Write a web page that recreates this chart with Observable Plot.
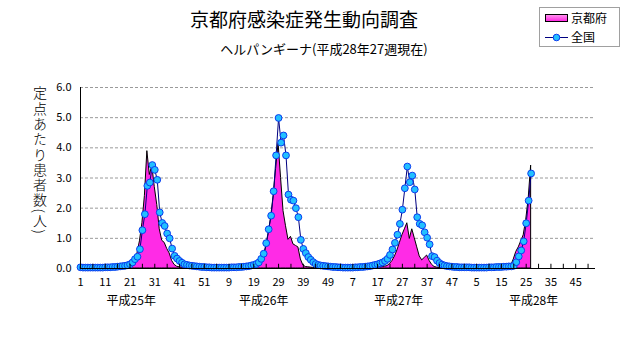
<!DOCTYPE html>
<html><head><meta charset="utf-8">
<script src="https://cdn.jsdelivr.net/npm/d3@7"></script>
<script src="https://cdn.jsdelivr.net/npm/@observablehq/plot@0.6"></script>
<style>
body{margin:0;background:#fff;}
#wrap{position:relative;width:631px;height:347px;font-family:"Noto Sans CJK JP","Noto Sans",sans-serif;color:#000;background:#fff;overflow:hidden;}
#chart{position:absolute;left:0;top:0;}
#title{position:absolute;left:0;width:608px;top:9px;text-align:center;font-size:19px;line-height:1;}
#subtitle{position:absolute;left:0;width:648px;top:42px;text-align:center;font-size:13px;line-height:1;}
#ylabel{position:absolute;left:33px;top:86px;writing-mode:vertical-rl;font-size:14px;line-height:1;letter-spacing:1.3px;font-weight:300;}
#legend{position:absolute;left:539px;top:7px;width:81px;height:40px;border:1px solid #a0a0a0;box-sizing:border-box;font-size:12px;}
.li{position:absolute;left:5px;height:16px;display:flex;align-items:center;}
.li span{margin-left:3px;line-height:1;}
</style></head><body>
<div id="wrap">
  <div id="chart"></div>
  <div id="title">京都府感染症発生動向調査</div>
  <div id="subtitle">ヘルパンギーナ(平成28年27週現在)</div>
  <div id="ylabel">定点あたり患者数(人)</div>
  <div id="legend">
    <div class="li" style="top:2px"><svg width="23" height="8"><defs><linearGradient id="lg" x1="0" y1="0" x2="0" y2="1"><stop offset="0" stop-color="#ff9af0"/><stop offset="1" stop-color="#ff20e0"/></linearGradient></defs><rect x="0.5" y="0.5" width="22" height="7" fill="url(#lg)" stroke="#000"/></svg><span>京都府</span></div>
    <div class="li" style="top:21px"><svg width="23" height="9"><line x1="0" y1="4.5" x2="23" y2="4.5" stroke="#000080"/><circle cx="11.5" cy="4.5" r="3.3" fill="#22c0ff" stroke="#0b3cf0"/></svg><span>全国</span></div>
  </div>
</div>
<script>
// 全国 (national) weekly values per sentinel
const national2013 = [0.04,0.03,0.03,0.03,0.03,0.03,0.03,0.03,0.03,0.03,
 0.04,0.04,0.04,0.05,0.05,0.06,0.07,0.08,0.09,0.11,
 0.14,0.20,0.31,0.39,0.64,1.27,1.80,2.74,2.85,3.43,
 3.27,2.94,1.86,1.51,1.41,1.16,1.00,0.66,0.42,0.33,
 0.25,0.19,0.14,0.12,0.10,0.09,0.08,0.07,0.06,0.05,
 0.05,0.04];
const national2014 = [0.04,0.03,0.03,0.03,0.03,0.03,0.03,0.03,0.03,0.04,
 0.04,0.04,0.05,0.05,0.06,0.07,0.08,0.10,0.12,0.15,
 0.20,0.32,0.49,0.84,1.30,1.75,2.56,3.75,4.99,4.17,
 4.41,3.75,2.45,2.28,2.25,2.00,1.70,0.95,0.65,0.51,
 0.38,0.29,0.21,0.15,0.12,0.10,0.09,0.08,0.07,0.06,
 0.05,0.05];
const national2015 = [0.04,0.04,0.03,0.03,0.03,0.03,0.03,0.04,0.04,0.05,
 0.05,0.06,0.07,0.08,0.10,0.12,0.14,0.17,0.20,0.25,
 0.32,0.45,0.63,0.85,1.12,1.48,1.95,2.66,3.38,2.86,
 3.08,2.62,1.70,1.48,1.43,1.20,1.02,0.80,0.41,0.38,
 0.26,0.18,0.13,0.10,0.08,0.07,0.06,0.05,0.05,0.04,
 0.04,0.04];
const national2016 = [0.04,0.04,0.03,0.03,0.03,0.03,0.03,0.03,0.03,0.04,
 0.04,0.04,0.05,0.05,0.05,0.06,0.06,0.07,0.07,0.09,
 0.21,0.40,0.60,0.90,1.50,2.25,3.15];

// 京都府 (Kyoto) weekly values per sentinel
const kyoto2013 = [0.02,0.01,0.01,0.00,0.00,0.01,0.00,0.00,0.01,0.01,
 0.01,0.02,0.02,0.02,0.03,0.03,0.04,0.05,0.06,0.08,
 0.10,0.20,0.35,0.50,0.90,1.50,2.40,3.89,3.10,3.40,
 2.70,2.10,1.30,0.92,0.85,0.65,0.50,0.25,0.12,0.06,
 0.04,0.03,0.03,0.02,0.02,0.01,0.01,0.01,0.00,0.01,
 0.00,0.00];
const kyoto2014 = [0.00,0.00,0.00,0.00,0.00,0.00,0.01,0.00,0.01,0.01,
 0.01,0.01,0.02,0.02,0.03,0.03,0.04,0.05,0.07,0.10,
 0.15,0.20,0.35,0.70,1.15,1.70,2.40,3.30,4.15,3.00,
 1.90,1.40,0.95,1.05,0.80,0.75,0.70,0.30,0.10,0.05,
 0.04,0.03,0.02,0.02,0.01,0.01,0.00,0.00,0.00,0.00,
 0.00,0.00];
const kyoto2015 = [0.00,0.00,0.00,0.00,0.00,0.00,0.00,0.00,0.01,0.01,
 0.01,0.01,0.01,0.02,0.02,0.03,0.03,0.04,0.05,0.06,
 0.08,0.15,0.25,0.40,0.60,0.85,1.10,1.30,1.50,0.98,
 1.30,1.00,0.70,0.40,0.27,0.35,0.43,0.25,0.12,0.05,
 0.03,0.02,0.02,0.01,0.01,0.00,0.00,0.00,0.00,0.00,
 0.00,0.00];
const kyoto2016 = [0.00,0.00,0.00,0.00,0.00,0.00,0.00,0.00,0.00,0.00,
 0.00,0.01,0.01,0.01,0.02,0.02,0.03,0.05,0.10,0.30,
 0.55,0.70,0.90,1.10,1.60,2.30,3.41];

const weekTickLabels = ["1","11","21","31","41","51","9","19","29","39","49","7","17","27","37","47","5","15","25","35","45"];
const weekTickPositions = [1,11,21,31,41,51,61,71,81,91,101,111,121,131,141,151,161,171,181,191,201];
const minorTickPositions = [1,6,11,16,21,26,31,36,41,46,51,56,61,66,71,76,81,86,91,96,101,106,111,116,121,126,131,136,141,146,151,156,161,166,171,176,181,186,191,196,201,206];
const yearLabels = ["平成25年","平成26年","平成27年","平成28年"];
const yearLabelPositions = [21.5, 75, 129.5, 184];
const yTickValues = [0,1,2,3,4,5,6];
const gridValues = [1,2,3,4,5,6];

const nationalAll = [...national2013, ...national2014, ...national2015, ...national2016];
const kyotoAll = [...kyoto2013, ...kyoto2014, ...kyoto2015, ...kyoto2016];
const data = nationalAll.map((v, k) => ({i: k + 1, national: v, kyoto: kyotoAll[k]}));

const chart = Plot.plot({
  width: 631, height: 347,
  marginLeft: 80, marginRight: 36, marginTop: 87, marginBottom: 79,
  x: {domain: [1, 209], axis: null},
  y: {domain: [0, 6], axis: null},
  style: {fontFamily: '"Noto Sans CJK JP","Noto Sans",sans-serif', fontSize: "11px", background: "#fff", color: "#000", overflow: "visible"},
  marks: [
    Plot.ruleY(gridValues, {stroke: "#9a9a9a", strokeDasharray: "3,2"}),
    Plot.areaY(data, {x: "i", y: "kyoto", fill: "#ff2be6", stroke: "#000", strokeWidth: 1, strokeOpacity: 1}),
    Plot.line(data, {x: "i", y: "national", stroke: "#000080", strokeWidth: 1}),
    Plot.dot(data, {x: "i", y: "national", r: 3.4, fill: "#22c0ff", stroke: "#0b3cf0", strokeWidth: 1}),
    Plot.ruleX([1], {y1: 0, y2: 6, stroke: "#000"}),
    Plot.ruleY([0], {stroke: "#000"}),
    Plot.ruleX(minorTickPositions, {x: d => d, y1: 0, y2: 0.14, stroke: "#000"}),
    Plot.text(yTickValues, {x: () => 1, y: d => d, text: d => d.toFixed(1), textAnchor: "end", dx: -9, fontSize: 11}),
    Plot.text(weekTickPositions, {x: d => d, y: () => 0, text: (d, k) => weekTickLabels[k], dy: 14, fontSize: 11}),
    Plot.text(yearLabelPositions, {x: d => d, y: () => 0, text: (d, k) => yearLabels[k], dy: 33, fontSize: 12})
  ]
});
document.getElementById("chart").appendChild(chart);
</script>
</body></html>
